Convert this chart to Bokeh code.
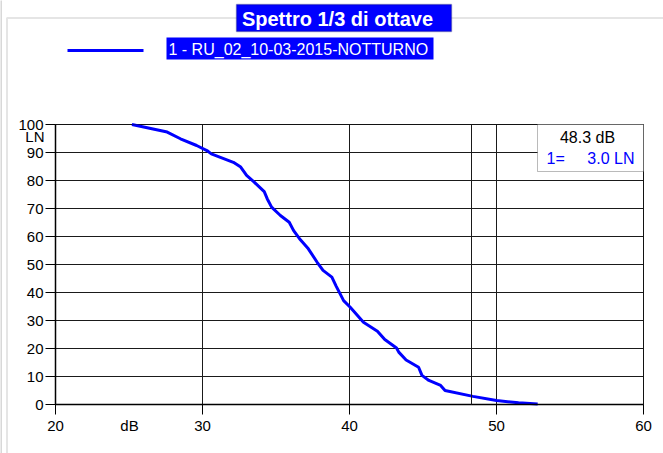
from bokeh.plotting import figure
from bokeh.models import (Range1d, FixedTicker, BoxAnnotation, Label, Arrow)
from bokeh.embed import file_html
from bokeh.resources import INLINE

# ---- data ----
db_values = [25.2, 27.6, 28.5, 29.6, 30.3, 30.6, 32.1, 32.6, 33.0, 33.5, 34.2, 34.4,
             34.7, 35.3, 35.9, 36.2, 36.6, 37.2, 37.8, 38.2, 38.8, 39.1, 39.6, 40.05,
             40.95, 41.9, 42.4, 43.2, 43.35, 43.85, 44.7, 44.93, 45.4, 46.2, 46.5,
             48.4, 50.0, 51.5, 52.8]
ln_values = [100, 97.3, 94.9, 92.5, 90.7, 89.5, 86.5, 84.8, 81.8, 79.5, 76.0, 73.5,
             70.5, 67.5, 65.1, 62.1, 59.2, 55.6, 50.8, 47.9, 45.5, 42.2, 37.1, 34.75,
             29.4, 26.2, 23.2, 20.2, 18.7, 15.9, 13.3, 10.4, 8.6, 6.8, 5.0,
             2.9, 1.4, 0.6, 0.2]
cursor_db = 48.3
cursor_ln = 3.0
series_name = "1 - RU_02_10-03-2015-NOTTURNO"
title_text = "Spettro 1/3 di ottave"
x_ticks = [20, 30, 40, 50, 60]
y_ticks = [0, 10, 20, 30, 40, 50, 60, 70, 80, 90, 100]
x_min, x_max = 20, 60
y_min, y_max = 0, 100

FONT = "Liberation Sans"
BLUE = "#0000ff"
GRID = "#1a1a1a"

# ---- layout (pixels): plot box inside the full-canvas frame ----
W, H = 663, 453
PL, PR, PT, PB = 55, 643, 124, 404

def dx(px):
    return x_min + (px - PL) * (x_max - x_min) / (PR - PL)

def dy(py):
    return y_min + (PB - py) * (y_max - y_min) / (PB - PT)

p = figure(width=W, height=H, output_backend="svg", toolbar_location=None,
           x_range=Range1d(dx(0), dx(W)), y_range=Range1d(dy(H), dy(0)),
           min_border_left=0, min_border_right=0, min_border_top=0, min_border_bottom=0,
           background_fill_color="white", border_fill_color="white")
p.outline_line_color = None

# axes pinned to the plot box
p.xaxis.fixed_location = y_min
p.yaxis.fixed_location = x_min
p.xaxis.bounds = (x_min, x_max)
p.yaxis.bounds = (y_min, y_max)
for ax in (p.xaxis[0], p.yaxis[0]):
    ax.major_label_text_font = FONT
    ax.major_label_text_font_size = "15px"
    ax.major_label_text_color = "black"
    ax.axis_line_color = "black"
    ax.axis_line_width = 1.5
    ax.major_tick_line_color = "black"
    ax.major_tick_line_width = 1
    ax.major_tick_out = 10
    ax.major_tick_in = 0
    ax.minor_tick_line_color = None
p.xaxis.ticker = FixedTicker(ticks=x_ticks)
p.yaxis.ticker = FixedTicker(ticks=y_ticks)
p.xaxis.major_label_standoff = 6
p.yaxis.major_label_standoff = 2

p.xgrid.ticker = FixedTicker(ticks=x_ticks)
p.ygrid.ticker = FixedTicker(ticks=y_ticks)
p.xgrid.bounds = (x_min, x_max)
p.ygrid.bounds = (y_min, y_max)
p.xgrid.cross_bounds = (y_min, y_max)
p.ygrid.cross_bounds = (x_min, x_max)
p.grid.grid_line_color = GRID
p.grid.grid_line_width = 1

# plot box outline
p.add_layout(BoxAnnotation(left=x_min, right=x_max, bottom=y_min, top=y_max,
                           fill_alpha=0, line_color="black", line_width=1))

# outer window frames
p.add_layout(BoxAnnotation(left=dx(6.5), right=dx(720), top=dy(17.5), bottom=dy(520),
                           fill_alpha=0, line_color="#a8a8a8", line_width=2))
p.add_layout(BoxAnnotation(left=dx(0.5), right=dx(720), top=dy(-20), bottom=dy(520),
                           fill_alpha=0, line_color="#505050", line_width=1.5))

# curve
p.line(db_values, ln_values, line_color=BLUE, line_width=3)

# cursor line
p.add_layout(Arrow(end=None, x_start=cursor_db, y_start=y_min, x_end=cursor_db, y_end=y_max,
                   line_color=GRID, line_width=1))

# title box
p.add_layout(BoxAnnotation(left=dx(236), right=dx(451), top=dy(4), bottom=dy(31),
                           fill_color=BLUE, fill_alpha=1, line_color="#000060", line_width=1.5))
p.add_layout(Label(x=dx(337), y=dy(18), text=title_text, text_align="center",
                   text_baseline="middle", text_color="white", text_font=FONT,
                   text_font_style="bold", text_font_size="20px"))

# legend
p.add_layout(Arrow(end=None, x_start=dx(67), y_start=dy(50), x_end=dx(143), y_end=dy(50),
                   line_color=BLUE, line_width=3))
p.add_layout(BoxAnnotation(left=dx(166), right=dx(433), top=dy(37), bottom=dy(59),
                           fill_color=BLUE, fill_alpha=1, line_alpha=0))
p.add_layout(Label(x=dx(168), y=dy(48.5), text=series_name, text_align="left",
                   text_baseline="middle", text_color="white", text_font=FONT,
                   text_font_size="16px"))

# axis unit labels
p.add_layout(Label(x=dx(44), y=dy(136), text="LN", text_align="right",
                   text_baseline="middle", text_color="black", text_font=FONT,
                   text_font_size="15px"))
p.add_layout(Label(x=dx(129), y=dy(425), text="dB", text_align="center",
                   text_baseline="middle", text_color="black", text_font=FONT,
                   text_font_size="15px"))

# cursor info box
p.add_layout(BoxAnnotation(left=dx(537), right=x_max, top=y_max, bottom=dy(171),
                           fill_color="white", fill_alpha=1, line_color=GRID, line_width=1))
p.add_layout(Label(x=dx(587), y=dy(137), text=f"{cursor_db:.1f} dB", text_align="center",
                   text_baseline="middle", text_color="black", text_font=FONT,
                   text_font_size="16px"))
p.add_layout(Label(x=dx(546), y=dy(158), text="1=", text_align="left",
                   text_baseline="middle", text_color=BLUE, text_font=FONT,
                   text_font_size="16px"))
p.add_layout(Label(x=dx(634), y=dy(158), text=f"{cursor_ln:.1f} LN", text_align="right",
                   text_baseline="middle", text_color=BLUE, text_font=FONT,
                   text_font_size="16px"))

open("out.html", "w").write(file_html(p, INLINE))
